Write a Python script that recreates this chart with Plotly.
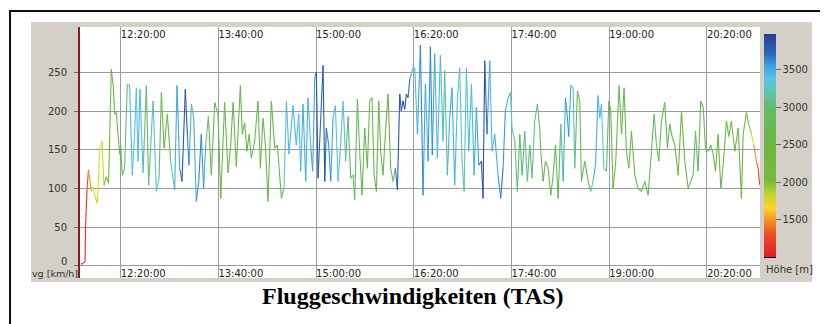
import plotly.graph_objects as go
from plotly.colors import sample_colorscale

TITLE = "Fluggeschwindigkeiten (TAS)"
Y_LABEL = "vg [km/h]"
CBAR_LABEL = "Höhe [m]"

# flight time in minutes since midnight
time_min = [
    707.5, 709.1, 710.8, 711.2, 712.4, 713.6,
    716.0, 717.3, 719.2, 720.9, 722.8, 724.7, 726.3, 728.2, 730.1, 732.3, 734.0, 735.1, 736.4, 737.8,
    739.2, 740.0, 741.3, 743.2, 745.4, 747.3, 749.5, 751.4, 752.8, 754.2, 755.8, 758.3, 761.0, 762.9,
    766.5, 769.2, 771.4, 773.3, 775.5, 778.2, 780.9, 784.2, 786.1, 788.3, 790.2, 792.9, 794.6, 795.9,
    797.9, 799.8, 801.9, 803.9, 806.0, 807.9, 809.6, 811.8, 814.2, 817.0, 819.7, 821.9, 825.1, 827.9,
    830.1, 832.0, 834.7, 838.0, 839.6, 841.5, 843.4, 845.1, 847.0, 849.7, 852.4, 854.4, 856.5, 858.5,
    860.6, 863.4, 866.1, 868.3, 871.6, 873.7, 875.7, 877.8, 881.1, 883.8, 885.8, 887.4, 889.3, 891.5,
    893.4, 895.6, 897.2, 898.9, 900.2, 901.6, 903.8, 905.7, 907.1, 908.4, 910.3, 912.0, 913.9, 915.8,
    918.0, 919.9, 922.1, 924.2, 926.2, 928.3, 930.3, 931.6, 933.8, 935.7, 937.6, 939.8, 942.0, 943.9,
    945.8, 947.5, 949.4, 951.3, 952.9, 954.8, 956.7, 958.9, 961.1, 963.0, 964.9, 966.6, 968.5, 969.8,
    971.2, 972.6, 973.9, 975.3, 976.7, 978.0, 979.4, 980.8, 983.0, 985.4, 987.6, 989.5, 991.7, 993.6,
    995.2, 997.1, 999.3, 1001.8, 1004.0, 1005.3, 1007.5, 1009.4, 1011.3, 1013.5, 1015.7, 1017.6, 1019.5,
    1021.2, 1023.1, 1025.0, 1027.2, 1029.4, 1031.3, 1033.2, 1035.4, 1036.7, 1038.1, 1040.0, 1042.2,
    1044.1, 1046.3, 1049.0, 1051.2, 1053.1, 1055.0, 1057.2, 1059.1, 1060.5, 1062.7, 1064.8, 1066.8,
    1068.7, 1070.9, 1073.0, 1075.0, 1076.9, 1079.0, 1081.2, 1083.1, 1084.0, 1085.9, 1087.8, 1090.0,
    1092.2, 1094.1, 1096.0, 1098.2, 1100.4, 1102.3, 1104.2, 1105.8, 1106.9, 1108.6, 1110.5, 1111.8,
    1114.0, 1115.9, 1117.3, 1120.0, 1122.8, 1124.9, 1126.8, 1128.8, 1130.9, 1132.3, 1133.7, 1135.6,
    1137.8, 1139.7, 1141.3, 1143.2, 1145.4, 1148.1, 1150.1, 1152.2, 1154.1, 1156.1, 1158.2, 1161.0,
    1163.7, 1166.4, 1169.2, 1171.9, 1174.6, 1176.8, 1178.7, 1180.6, 1182.8, 1185.5, 1187.7, 1189.6,
    1191.5, 1193.7, 1196.5, 1199.2, 1201.9, 1204.7, 1206.8, 1208.7, 1210.7, 1212.8, 1215.0, 1217.0,
    1218.9, 1221.1, 1223.2, 1225.2, 1227.1, 1229.2, 1231.4, 1233.6, 1236.0, 1238.0, 1240.1, 1242.9,
    1245.6, 1248.3, 1249.7, 1252.4, 1254.3, 1256.5, 1258.4, 1260.6, 1262.0, 1263.3,
]

# true air speed, km/h
speed_kmh = [
    2, 3, 5, 50, 98, 124,
    96, 102, 89, 80, 148, 161, 104, 115, 107, 254, 230, 196, 198, 170,
    144, 156, 117, 126, 235, 233, 117, 170, 230, 135, 228, 120, 233, 104,
    213, 96, 113, 224, 152, 196, 135, 98, 233, 126, 109, 228, 170, 130,
    209, 191, 83, 109, 170, 100, 156, 193, 117, 211, 196, 87, 211, 120,
    156, 211, 128, 233, 170, 185, 148, 170, 139, 161, 213, 126, 191, 156,
    83, 213, 152, 156, 87, 100, 213, 144, 207, 156, 196, 122, 209, 109,
    217, 156, 122, 243, 250, 113, 191, 259, 109, 178, 156, 109, 191, 207,
    109, 152, 213, 135, 193, 113, 117, 85, 215, 148, 91, 178, 126, 213,
    217, 117, 96, 213, 148, 117, 170, 222, 126, 109, 126, 98, 222, 200,
    213, 202, 222, 217, 241, 248, 256, 256, 170, 285, 91, 235, 135, 283,
    143, 274, 139, 272, 161, 252, 117, 191, 230, 104, 213, 256, 135,
    96, 256, 148, 235, 117, 205, 130, 135, 87, 265, 170, 265,
    148, 170, 117, 87, 126, 200, 217, 224, 178, 161, 96, 170,
    117, 174, 109, 156, 113, 187, 209, 178, 148, 109, 135, 126,
    91, 117, 156, 87, 183, 109, 217, 191, 167, 233, 230, 126,
    226, 213, 109, 135, 109, 96, 109, 130, 220, 191, 209, 126,
    122, 213, 200, 100, 135, 233, 170, 230, 148, 126, 174, 117,
    100, 96, 109, 91, 148, 196, 156, 135, 187, 211, 152, 183,
    167, 156, 117, 200, 135, 100, 109, 117, 174, 122, 213, 205,
    152, 148, 156, 144, 122, 170, 100, 135, 187, 167, 187, 148,
    178, 87, 170, 198, 183, 170, 156, 135, 126, 104,
]

# altitude, m
alt_m = [
    1000, 1000, 1050, 1100, 1200, 1350,
    1650, 1700, 1750, 1800, 1700, 1680, 1900, 2100, 2200, 2400, 2450, 2500, 2550, 2600,
    2600, 2650, 2700, 2900, 3200, 3400, 3450, 3300, 3350, 3450, 3450, 3300, 2800, 2900,
    3350, 3400, 3300, 2700, 2650, 2700, 3000, 3450, 3500, 3600, 3800, 3850, 3800, 3500,
    3450, 3450, 3550, 3600, 3650, 3550, 3400, 2800, 2750, 2700, 2700, 2650, 2700, 2650,
    2650, 2700, 2650, 2700, 2650, 2600, 2600, 2650, 2600, 2650, 2700, 2650, 2700, 2650,
    2650, 2700, 2650, 2600, 2700, 3200, 3400, 3450, 3450, 3400, 3450, 3450, 3450, 3500,
    3450, 3450, 3600, 3450, 3850, 3800, 3650, 3850, 3800, 3650, 3600, 3600, 3500, 3400,
    3400, 3350, 3300, 3250, 2850, 2900, 3000, 3100, 2800, 2800, 2900, 2800, 2750, 2600,
    2600, 2650, 2700, 2600, 2600, 2650, 2600, 2500, 2550, 2600, 3600, 3800, 3850, 3850,
    3800, 3800, 3750, 3700, 3650, 3500, 3400, 3450, 3450, 3650, 3600, 3450, 3450, 3700,
    3600, 3450, 3450, 3450, 3400, 2900, 3400, 3600, 3500, 3450, 3400, 3250, 3300,
    3250, 3250, 3400, 3450, 3450, 3500, 3600, 3800, 3850, 3850, 3600, 3450,
    3450, 3450, 3500, 3700, 3650, 3550, 3450, 3400, 3300, 3200, 2900, 3000,
    2900, 3150, 3100, 2800, 2900, 3450, 2900, 3000, 2800, 2750, 2700, 2700,
    2700, 2700, 2750, 2700, 2900, 3450, 3550, 3600, 3550, 3450, 3400, 3100,
    2800, 2750, 2750, 2750, 2700, 2800, 3450, 3500, 3450, 3450, 3400, 3400,
    3000, 2650, 2600, 2650, 2650, 2650, 2650, 2650, 2650, 2700, 2700, 2700,
    2700, 2700, 2700, 2700, 2800, 3200, 2900, 2800, 2700, 2650, 2650, 2600,
    2550, 2500, 2300, 2500, 2600, 2600, 2650, 2800, 3200, 2800, 2700, 2700,
    2650, 2650, 2650, 2700, 2650, 2650, 2600, 2600, 2650, 2650, 2600, 2550,
    2550, 2550, 2500, 2300, 2000, 1900, 1500, 1400, 1300, 1200,
]

x_ticks = [740, 820, 900, 980, 1060, 1140, 1220]
x_tick_labels = ["12:20:00", "13:40:00", "15:00:00", "16:20:00", "17:40:00", "19:00:00", "20:20:00"]
y_ticks = [0, 50, 100, 150, 200, 250]
# the zero label sits raised above the axis title, so it is placed separately
y_tick_labels = [""] + [str(v) for v in y_ticks[1:]]
ZERO_LABEL = str(y_ticks[0])
c_ticks = [1500, 2000, 2500, 3000, 3500]
ALT_MIN, ALT_MAX = 1000, 3980
X_RANGE = [706.67, 1263.5]
Y_RANGE = [-15.9, 308.6]

CSCALE = [
    [0.0, 'rgb(225,30,35)'],
    [0.10, 'rgb(235,75,35)'],
    [0.16, 'rgb(245,140,35)'],
    [0.22, 'rgb(250,215,40)'],
    [0.29, 'rgb(185,210,50)'],
    [0.34, 'rgb(120,185,60)'],
    [0.50, 'rgb(110,182,68)'],
    [0.66, 'rgb(100,186,100)'],
    [0.74, 'rgb(95,196,175)'],
    [0.80, 'rgb(85,196,230)'],
    [0.86, 'rgb(55,160,220)'],
    [0.91, 'rgb(45,105,185)'],
    [1.0, 'rgb(40,60,145)'],
]

FONT = "DejaVu Sans"
GRID = "#9c9c9c"

fig = go.Figure()

# colour-coded line segments, grouped by altitude bin
NB = 60
bins = {}
for i in range(len(time_min) - 1):
    a = (alt_m[i] + alt_m[i + 1]) / 2
    f = min(max((a - ALT_MIN) / (ALT_MAX - ALT_MIN), 0), 1)
    k = round(f * NB)
    xs, ys = bins.setdefault(k, ([], []))
    xs += [time_min[i], time_min[i + 1], None]
    ys += [speed_kmh[i], speed_kmh[i + 1], None]

for k in sorted(bins):
    xs, ys = bins[k]
    col = sample_colorscale(CSCALE, [k / NB])[0]
    fig.add_trace(go.Scatter(x=xs, y=ys, mode="lines", line=dict(color=col, width=1.1),
                             showlegend=False, hoverinfo="skip"))

# colour bar carrier
fig.add_trace(go.Scatter(
    x=[time_min[0]], y=[speed_kmh[0]], mode="markers", showlegend=False, hoverinfo="skip",
    marker=dict(size=0.1, opacity=0, color=[alt_m[0]], cmin=ALT_MIN, cmax=ALT_MAX,
                colorscale=CSCALE, showscale=True,
                colorbar=dict(x=1.0059, xanchor="left", y=0.528, yanchor="middle",
                              len=0.888, lenmode="fraction", thickness=12, thicknessmode="pixels",
                              outlinewidth=0, xpad=0, ypad=0, tickvals=c_ticks,
                              ticks="outside", ticklen=5, tickcolor="#666",
                              tickfont=dict(family=FONT, size=10, color="#333"),
                              bgcolor="rgba(0,0,0,0)")),
))

# top axis carrier
fig.add_trace(go.Scatter(x=X_RANGE, y=[None, None], xaxis="x2", showlegend=False, hoverinfo="skip"))

axis_common = dict(range=X_RANGE, tickmode="array", tickvals=x_ticks, ticktext=x_tick_labels,
                   ticks="", ticklen=0, zeroline=False, showline=False,
                   ticklabelposition="inside right",
                   tickfont=dict(family=FONT, size=10, color="#222"))

# page body adds an 8px offset, so the figure is 820x316
fig.update_layout(
    width=820, height=316,
    margin=dict(l=72, r=68, t=19, b=46, pad=0),
    paper_bgcolor="white", plot_bgcolor="white",
    showlegend=False,
    font=dict(family=FONT, size=10, color="#333"),
    xaxis=dict(**axis_common, showgrid=True, gridcolor=GRID, gridwidth=1.2, ticklabelstandoff=-7),
    xaxis2=dict(**axis_common, overlaying="x", side="top", anchor="y", showgrid=False,
                ticklabelstandoff=-2),
    yaxis=dict(range=Y_RANGE, tickmode="array", tickvals=y_ticks, ticktext=y_tick_labels,
               ticks="outside", ticklen=4,
               tickcolor="#666", ticklabelstandoff=5, showgrid=True, gridcolor=GRID, gridwidth=1.2,
               zeroline=False, showline=True, linecolor="#8b1a1a", linewidth=2,
               tickfont=dict(family=FONT, size=10, color="#333")),
    shapes=[
        dict(type="rect", xref="paper", yref="paper", x0=-0.0721, x1=1.0765, y0=-0.0159, y1=1.0199,
             fillcolor="#d4d0c8", line=dict(width=0), layer="below"),
        dict(type="rect", xref="paper", yref="paper", x0=0, x1=1, y0=0, y1=1,
             fillcolor="white", line=dict(width=0), layer="below"),
        dict(type="rect", xref="paper", yref="paper", x0=-0.1029, x1=1.11, y0=-0.2, y1=1.0637,
             fillcolor="rgba(0,0,0,0)", line=dict(color="#111", width=2), layer="above"),
        dict(type="line", xref="paper", yref="paper", x0=1.0059, x1=1.0235, y0=0.0837, y1=0.0837,
             line=dict(color="#000", width=2), layer="above"),
    ],
    annotations=[
        dict(text=TITLE, xref="paper", yref="paper", x=0.4897, y=-0.073, xanchor="center",
             yanchor="middle", showarrow=False,
             font=dict(family="Liberation Serif", size=24, color="#000", weight="bold")),
        dict(text=ZERO_LABEL, xref="paper", yref="y", x=-0.0175, y=y_ticks[0], yshift=4,
             xanchor="right", yanchor="middle", showarrow=False, borderpad=0,
             font=dict(family=FONT, size=10, color="#333")),
        dict(text=Y_LABEL, xref="paper", yref="paper", x=-0.0015, y=-0.006, xanchor="right",
             yanchor="bottom", showarrow=False, borderpad=0,
             font=dict(family=FONT, size=9.5, color="#333")),
        dict(text=CBAR_LABEL, xref="paper", yref="paper", x=1.0059, y=0.032, xanchor="left",
             yanchor="middle", showarrow=False, font=dict(family=FONT, size=10, color="#333")),
    ],
)

fig.write_html("out.html")
